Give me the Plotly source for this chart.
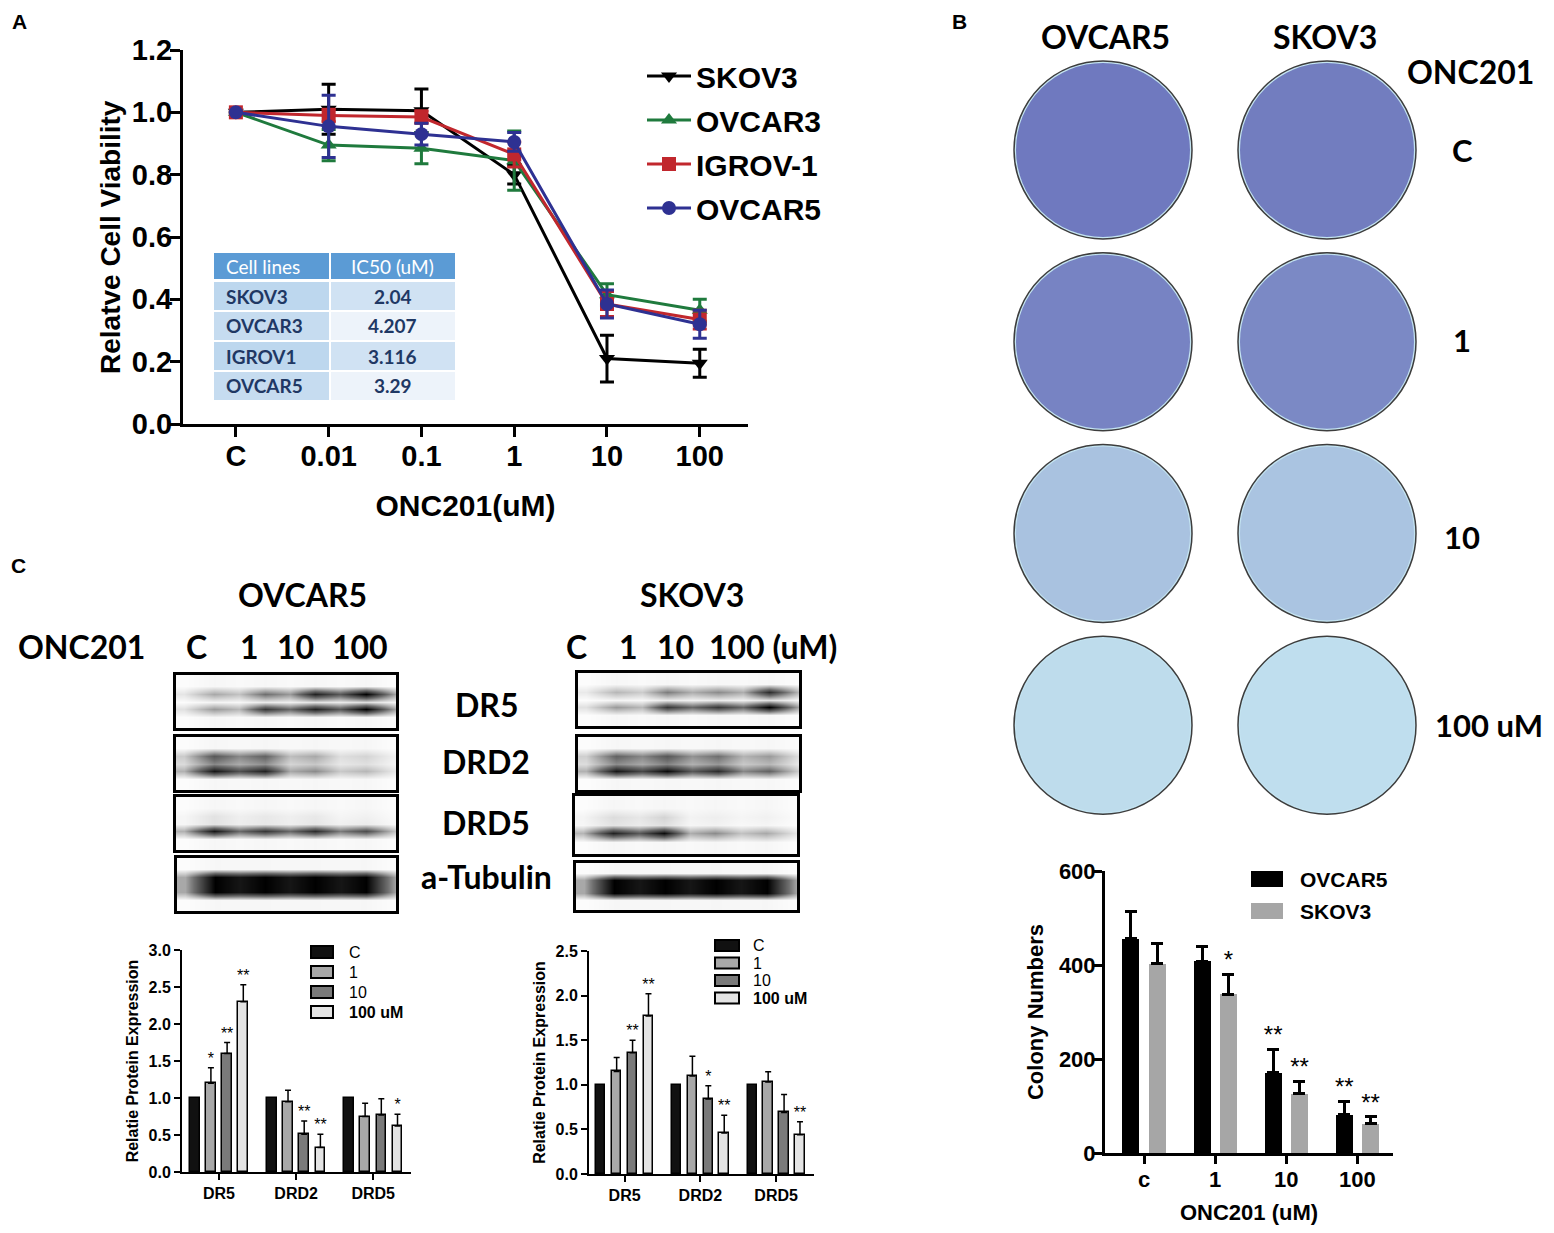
import plotly.graph_objects as go

W, H = 1554, 1233
PAGE_PAD = 8            # default body margin of the html page
FW, FH = W - 2 * PAGE_PAD, H - 2 * PAGE_PAD
ARIAL = 'Liberation Sans, Arial, sans-serif'
CALIBRI = 'Lato, Open Sans, sans-serif'

# ---------------- Panel A: viability ----------------
CONC_LABELS = ['C', '0.01', '0.1', '1', '10', '100']
SKOV3_VIAB = [1.0, 1.01, 1.005, 0.80, 0.21, 0.195]
SKOV3_ERR = [0.0, 0.08, 0.07, 0.03, 0.075, 0.045]
OVCAR3_VIAB = [1.0, 0.895, 0.885, 0.845, 0.415, 0.365]
OVCAR3_ERR = [0.0, 0.05, 0.05, 0.095, 0.035, 0.035]
IGROV1_VIAB = [1.0, 0.99, 0.985, 0.865, 0.385, 0.335]
IGROV1_ERR = [0.0, 0.02, 0.02, 0.04, 0.04, 0.03]
OVCAR5_VIAB = [1.0, 0.955, 0.93, 0.905, 0.385, 0.32]
OVCAR5_ERR = [0.0, 0.10, 0.035, 0.03, 0.045, 0.045]

IC50_HEADER = ['Cell lines', 'IC50 (uM)']
IC50_LINES = ['SKOV3', 'OVCAR3', 'IGROV1', 'OVCAR5']
IC50_VALUES = ['2.04', '4.207', '3.116', '3.29']

# ---------------- Panel B: colony formation ----------------
PLATE_LINES = ['OVCAR5', 'SKOV3']
PLATE_DOSES = ['C', '1', '10', '100 uM']
PLATE_COVER_OVCAR5 = [0.68, 0.62, 0.22, 0.05]
PLATE_COVER_SKOV3 = [0.66, 0.58, 0.20, 0.04]

COLONY_DOSES = ['c', '1', '10', '100']
COLONY_OVCAR5 = [456, 408, 171, 81]
COLONY_OVCAR5_ERR = [57, 32, 50, 29]
COLONY_SKOV3 = [403, 338, 126, 62]
COLONY_SKOV3_ERR = [43, 42, 27, 15]
COLONY_OVCAR5_SIG = ['', '', '**', '**']
COLONY_SKOV3_SIG = ['', '*', '**', '**']

# ---------------- Panel C: western blot ----------------
PROTEINS = ['DR5', 'DRD2', 'DRD5']
WB_DOSES = ['C', '1', '10', '100 uM']

OV5_EXPR_C = [1.0, 1.0, 1.0]
OV5_EXPR_1 = [1.2, 0.95, 0.75]
OV5_EXPR_10 = [1.6, 0.51, 0.77]
OV5_EXPR_100 = [2.3, 0.33, 0.62]
OV5_ERR_1 = [0.21, 0.155, 0.18]
OV5_ERR_10 = [0.15, 0.18, 0.22]
OV5_ERR_100 = [0.23, 0.18, 0.16]
OV5_SIG_1 = ['*', '', '']
OV5_SIG_10 = ['**', '**', '']
OV5_SIG_100 = ['**', '**', '*']

SK3_EXPR_C = [1.0, 1.0, 1.0]
SK3_EXPR_1 = [1.15, 1.10, 1.03]
SK3_EXPR_10 = [1.36, 0.84, 0.69]
SK3_EXPR_100 = [1.77, 0.46, 0.44]
SK3_ERR_1 = [0.155, 0.22, 0.115]
SK3_ERR_10 = [0.14, 0.15, 0.20]
SK3_ERR_100 = [0.25, 0.20, 0.145]
SK3_SIG_1 = ['', '', '']
SK3_SIG_10 = ['**', '*', '']
SK3_SIG_100 = ['**', '**', '**']

# band intensities per lane (C, 1, 10, 100), 0 = blank, 1 = saturated
OV5_DR5_LOW = [0.35, 0.75, 0.85, 1.0]
OV5_DR5_UP = [0.30, 0.50, 0.85, 1.0]
OV5_DRD2_LOW = [0.90, 0.85, 0.40, 0.25]
OV5_DRD2_UP = [0.60, 0.55, 0.30, 0.15]
OV5_DRD5_LOW = [0.90, 0.75, 0.80, 0.65]
OV5_DRD5_UP = [0.10, 0.08, 0.08, 0.05]
OV5_TUB_LOW = [1.0, 1.0, 1.0, 1.0]
OV5_TUB_UP = [1.0, 1.0, 1.0, 1.0]
SK3_DR5_LOW = [0.35, 0.75, 0.75, 1.0]
SK3_DR5_UP = [0.25, 0.45, 0.40, 0.80]
SK3_DRD2_LOW = [0.90, 0.95, 0.80, 0.55]
SK3_DRD2_UP = [0.55, 0.60, 0.50, 0.35]
SK3_DRD5_LOW = [0.85, 0.95, 0.40, 0.30]
SK3_DRD5_UP = [0.12, 0.15, 0.06, 0.05]
SK3_TUB_LOW = [1.0, 1.0, 1.0, 1.0]
SK3_TUB_UP = [1.0, 1.0, 1.0, 1.0]
BLOT_GAP = [0.12, 0.55, 0.2, 1.0]    # how much signal sits between the two band rows
BLOT_SEAM = [0.7, 0.75, 0.7, 0.9]    # how much signal remains between neighbouring lanes
BLOT_LABELS = ['DR5', 'DRD2', 'DRD5', 'a-Tubulin']


def fx(px):
    return (px - PAGE_PAD) / FW


def fy(py):
    return 1 - (py - PAGE_PAD) / FH


def bold(size, family=ARIAL, color='black'):
    return dict(family=family, size=size, color=color, weight='bold')


fig = go.Figure()
annotations = []
shapes = []


def label(text, px, py, size, family=CALIBRI, xanchor='center', weight='bold', color='black', angle=0):
    annotations.append(dict(text=text, x=fx(px), y=fy(py), xref='paper', yref='paper',
                            xanchor=xanchor, yanchor='middle', showarrow=False, textangle=angle,
                            font=dict(family=family, size=size, color=color, weight=weight)))


def box(x0, x1, y0, y1, color, edge=None, edge_w=0):
    shapes.append(dict(type='rect', xref='paper', yref='paper', x0=fx(x0), x1=fx(x1),
                       y0=fy(y1), y1=fy(y0), fillcolor=color, layer='above',
                       line=dict(width=edge_w, color=edge or color)))


def key(names, fills, bx0, bx1, y_first, pitch, bh, tx, size, weights, edge=None, edge_w=0):
    # hand-drawn legend: swatch + label per series
    for i, (name, fill) in enumerate(zip(names, fills)):
        yc = y_first + pitch * i
        box(bx0, bx1, yc - bh / 2, yc + bh / 2, fill, edge, edge_w)
        label(name, tx, yc, size, ARIAL, xanchor='left', weight=weights[i])


# ---------- A ----------
a_series = [
    ('SKOV3', SKOV3_VIAB, SKOV3_ERR, '#000000', 'triangle-down'),
    ('OVCAR3', OVCAR3_VIAB, OVCAR3_ERR, '#1f7a3d', 'triangle-up'),
    ('IGROV-1', IGROV1_VIAB, IGROV1_ERR, '#c1272d', 'square'),
    ('OVCAR5', OVCAR5_VIAB, OVCAR5_ERR, '#2e3192', 'circle'),
]
x_idx = list(range(len(CONC_LABELS)))
for name, vals, errs, color, symbol in a_series:
    fig.add_trace(go.Scatter(
        x=x_idx, y=vals, name=name, mode='lines+markers',
        line=dict(color=color, width=3),
        marker=dict(symbol=symbol, size=14, color=color),
        error_y=dict(type='data', array=errs, color=color, thickness=3, width=7),
        legendgroup=name, legend='legend', xaxis='x', yaxis='y'))

# IC50 inset table (drawn as cells so the row height follows the picture)
col_edges = [214, 330, 455]
col1_fill = ['#bdd7ee', '#c6dcf0', '#bdd7ee', '#c6dcf0']
col2_fill = ['#d0e2f3', '#edf3fa', '#d0e2f3', '#edf3fa']
box(col_edges[0], col_edges[1] - 1, 253, 279, '#5b9bd5')
box(col_edges[1] + 1, col_edges[2], 253, 279, '#5b9bd5')
label(IC50_HEADER[0], col_edges[0] + 10, 266, 19, xanchor='left', color='white', weight='normal')
label(IC50_HEADER[1], (col_edges[1] + col_edges[2]) / 2, 266, 19, color='white', weight='normal')
for i, (line_name, ic50) in enumerate(zip(IC50_LINES, IC50_VALUES)):
    top = 282 + 30 * i
    box(col_edges[0], col_edges[1] - 1, top, top + 28, col1_fill[i])
    box(col_edges[1] + 1, col_edges[2], top, top + 28, col2_fill[i])
    label(line_name, col_edges[0] + 10, top + 14, 19, xanchor='left', color='#1f3864')
    label(ic50, (col_edges[1] + col_edges[2]) / 2, top + 14, 19, color='#1f3864')

# ---------- B plates ----------
for j, cover in enumerate([PLATE_COVER_OVCAR5, PLATE_COVER_SKOV3]):
    xs = [j] * len(PLATE_DOSES)
    ys = list(range(len(PLATE_DOSES)))
    fig.add_trace(go.Scatter(x=xs, y=ys, mode='markers', showlegend=False, hoverinfo='skip',
                             marker=dict(size=178, color='#c4e4f1',
                                         line=dict(color='#3d3d3d', width=1.5)),
                             xaxis='x2', yaxis='y2'))
    fig.add_trace(go.Scatter(x=xs, y=ys, mode='markers', showlegend=False, hoverinfo='skip',
                             marker=dict(size=174, color='#4747a6', opacity=cover,
                                         line=dict(width=0)),
                             xaxis='x2', yaxis='y2'))

# ---------- B colony bars ----------
cx = list(range(len(COLONY_DOSES)))
colony_fill = ['#000000', '#a6a6a6']
for k, (name, vals, errs, sig) in enumerate([
        ('OVCAR5', COLONY_OVCAR5, COLONY_OVCAR5_ERR, COLONY_OVCAR5_SIG),
        ('SKOV3', COLONY_SKOV3, COLONY_SKOV3_ERR, COLONY_SKOV3_SIG)]):
    xpos = [c + (k - 0.5) * 0.37 for c in cx]
    fig.add_trace(go.Bar(x=xpos, y=vals, width=0.24, name=name, showlegend=False,
                         marker=dict(color=colony_fill[k], line=dict(width=0)),
                         error_y=dict(type='data', array=errs, arrayminus=[0] * len(errs),
                                      symmetric=False, color='black', thickness=3, width=6),
                         xaxis='x3', yaxis='y3'))
    fig.add_trace(go.Scatter(x=xpos, y=[v + e for v, e in zip(vals, errs)], text=sig,
                             mode='text', textposition='top center', showlegend=False,
                             textfont=dict(family=ARIAL, size=24, color='black'),
                             hoverinfo='skip', xaxis='x3', yaxis='y3'))
key(['OVCAR5', 'SKOV3'], colony_fill, 1251, 1283, 879, 32, 16, 1298, 21, ['bold', 'bold'])

# ---------- C blots ----------
ov5_bands = [(OV5_DR5_LOW, OV5_DR5_UP), (OV5_DRD2_LOW, OV5_DRD2_UP),
             (OV5_DRD5_LOW, OV5_DRD5_UP), (OV5_TUB_LOW, OV5_TUB_UP)]
sk3_bands = [(SK3_DR5_LOW, SK3_DR5_UP), (SK3_DRD2_LOW, SK3_DRD2_UP),
             (SK3_DRD5_LOW, SK3_DRD5_UP), (SK3_TUB_LOW, SK3_TUB_UP)]
ov5_boxes = [(176, 396, 675, 728), (176, 396, 737, 790), (176, 396, 797, 850), (177, 396, 858, 911)]
sk3_boxes = [(578, 799, 673, 726), (578, 799, 737, 790), (575, 797, 796, 854), (576, 797, 863, 910)]


def lane_profile(vals, seam):
    # lane centres plus the lighter seams between neighbouring lanes
    out = [0.3 * vals[0]]
    for i, v in enumerate(vals):
        out.append(v)
        if i < len(vals) - 1:
            out.append(seam * min(v, vals[i + 1]))
    out.append(0.3 * vals[-1])
    return out


lane_x = [-0.6] + [v for i in range(4) for v in ([i, i + 0.5] if i < 3 else [i])] + [3.6]

blot_axes = {}
ax_n = 6
for bands, boxes in [(ov5_bands, ov5_boxes), (sk3_bands, sk3_boxes)]:
    for r, ((low, up), bx) in enumerate(zip(bands, boxes)):
        gap = [BLOT_GAP[r] * (a + b) / 2 for a, b in zip(low, up)]
        bg = [0.03] * 4
        rows = [bg, bg, low, gap, up, bg, bg]
        z = [lane_profile(rw, BLOT_SEAM[r]) for rw in rows]
        fig.add_trace(go.Heatmap(z=z, x=lane_x, y=list(range(len(rows))), zmin=0, zmax=1,
                                 zsmooth='best', showscale=False, hoverinfo='skip',
                                 colorscale=[[0, '#ffffff'], [0.5, '#6e6e6e'], [1, '#000000']],
                                 xaxis='x%d' % ax_n, yaxis='y%d' % ax_n))
        blot_axes[ax_n] = bx
        ax_n += 1

# ---------- C quantification bars ----------
wb_fill = ['#111111', '#a8a8a8', '#7a7a7a', '#e4e4e4']
px_idx = list(range(len(PROTEINS)))
for axn, expr, errs, sigs in [
        (4, [OV5_EXPR_C, OV5_EXPR_1, OV5_EXPR_10, OV5_EXPR_100],
         [None, OV5_ERR_1, OV5_ERR_10, OV5_ERR_100], [None, OV5_SIG_1, OV5_SIG_10, OV5_SIG_100]),
        (5, [SK3_EXPR_C, SK3_EXPR_1, SK3_EXPR_10, SK3_EXPR_100],
         [None, SK3_ERR_1, SK3_ERR_10, SK3_ERR_100], [None, SK3_SIG_1, SK3_SIG_10, SK3_SIG_100])]:
    for k, dose in enumerate(WB_DOSES):
        xpos = [p + (k - 1.5) * 0.21 for p in px_idx]
        ey = None
        if errs[k] is not None:
            ey = dict(type='data', array=errs[k], arrayminus=[0] * 3, symmetric=False,
                      color='black', thickness=1.5, width=3)
        fig.add_trace(go.Bar(x=xpos, y=expr[k], width=0.125, name=dose, showlegend=False,
                             marker=dict(color=wb_fill[k], line=dict(color='black', width=1.5)),
                             error_y=ey, xaxis='x%d' % axn, yaxis='y%d' % axn))
        if sigs[k] is not None:
            fig.add_trace(go.Scatter(x=xpos, y=[v + e for v, e in zip(expr[k], errs[k])],
                                     text=sigs[k], mode='text', textposition='top center',
                                     textfont=dict(family=ARIAL, size=16, color='black'),
                                     showlegend=False, hoverinfo='skip',
                                     xaxis='x%d' % axn, yaxis='y%d' % axn))
key_weights = ['normal', 'normal', 'normal', 'bold']
key(WB_DOSES, wb_fill, 311, 333, 952, 20, 12, 347, 16, key_weights, 'black', 2)
key(WB_DOSES, wb_fill, 715, 739, 945.5, 17.5, 11, 751, 16, key_weights, 'black', 2)

# ---------- layout ----------
layout = dict(
    width=FW, height=FH, autosize=False,
    margin=dict(l=0, r=0, t=0, b=0, pad=0, autoexpand=False),
    paper_bgcolor='white', plot_bgcolor='white', showlegend=True, bargap=0,
)


def axis_style(lw, tl, tw, size, shift=0):
    return dict(showline=True, linecolor='black', linewidth=lw, ticks='outside', ticklen=tl,
                tickwidth=tw, tickcolor='black', showgrid=False, zeroline=False,
                automargin=False, tickfont=bold(size), ticklabelstandoff=shift)


layout['xaxis'] = dict(domain=[fx(183), fx(748)], range=[-0.57, 5.52], anchor='y',
                       tickvals=x_idx, ticktext=CONC_LABELS,
                       title=dict(text='ONC201(uM)', font=bold(30), standoff=25),
                       **axis_style(3, 10, 3, 29, -6))
layout['yaxis'] = dict(domain=[fy(424), fy(50)], range=[0, 1.2], dtick=0.2, tickformat='.1f',
                       anchor='x', **axis_style(3, 10, 3, 29, -8))
label('Relatve Cell Viability', 110, 237, 28, ARIAL, angle=-90)
layout['legend'] = dict(x=fx(642), y=fy(50), xanchor='left', yanchor='top', font=bold(30),
                        bgcolor='rgba(0,0,0,0)', tracegroupgap=2, itemwidth=44)

hidden = dict(visible=False, showgrid=False, zeroline=False, automargin=False)
layout['xaxis2'] = dict(domain=[fx(991), fx(1439)], range=[-0.5, 1.5], anchor='y2', **hidden)
layout['yaxis2'] = dict(domain=[fy(821), fy(54)], range=[3.5, -0.5], anchor='x2', **hidden)

layout['xaxis3'] = dict(domain=[fx(1105), fx(1393)], range=[-0.55, 3.5], anchor='y3',
                        tickvals=cx, ticktext=COLONY_DOSES,
                        title=dict(text='ONC201 (uM)', font=bold(22), standoff=27),
                        **axis_style(3, 8, 3, 22, -3))
layout['yaxis3'] = dict(domain=[fy(1153), fy(871)], range=[0, 600], dtick=200, anchor='x3',
                        title=dict(text='Colony Numbers', font=bold(22), standoff=10),
                        **axis_style(3, 8, 3, 22, -6))

layout['xaxis4'] = dict(domain=[fx(182), fx(411)], range=[-0.48, 2.49], anchor='y4',
                        tickvals=px_idx, ticktext=PROTEINS, **axis_style(2, 6, 2, 16))
layout['yaxis4'] = dict(domain=[fy(1172), fy(950)], range=[0, 3.0], dtick=0.5, tickformat='.1f',
                        anchor='x4', title=dict(text='Relatie Protein Expression', font=bold(16), standoff=6),
                        **axis_style(2, 6, 2, 16))
layout['xaxis5'] = dict(domain=[fx(589), fx(814)], range=[-0.47, 2.5], anchor='y5',
                        tickvals=px_idx, ticktext=PROTEINS, **axis_style(2, 6, 2, 16))
layout['yaxis5'] = dict(domain=[fy(1174), fy(951)], range=[0, 2.5], dtick=0.5, tickformat='.1f',
                        anchor='x5', title=dict(text='Relatie Protein Expression', font=bold(16), standoff=6),
                        **axis_style(2, 6, 2, 16))

for n, (x0, x1, y0, y1) in blot_axes.items():
    frame = dict(showline=True, mirror=True, linecolor='black', linewidth=2.5, ticks='',
                 showticklabels=False, showgrid=False, zeroline=False, automargin=False)
    layout['xaxis%d' % n] = dict(domain=[fx(x0), fx(x1)], range=[-0.75, 3.6], anchor='y%d' % n, **frame)
    layout['yaxis%d' % n] = dict(domain=[fy(y1), fy(y0)], range=[-0.5, 6.5], anchor='x%d' % n, **frame)

# panel letters
label('A', 19, 21, 21, ARIAL)
label('B', 959, 21, 21, ARIAL)
label('C', 18, 566, 21, ARIAL)

# panel B text
label('OVCAR5', 1105, 37, 32)
label('SKOV3', 1325, 37, 32)
label('ONC201', 1470, 72, 32)
for dose, py in zip(PLATE_DOSES, [150, 340, 537, 725]):
    label(dose, 1489 if dose == '100 uM' else 1462, py, 31)

# panel C text
label('OVCAR5', 302, 594, 32)
label('SKOV3', 692, 594, 32)
label('ONC201', 81, 646, 32)
for text, px in zip(['C', '1', '10', '100'], [196, 249, 295, 360]):
    label(text, px, 646, 32)
for text, px in zip(['C', '1', '10', '100 (uM)'], [576, 628, 675, 773]):
    label(text, px, 646, 32)
for text, py in zip(BLOT_LABELS, [704, 761, 822, 876]):
    label(text, 486, py, 32)

layout['annotations'] = annotations
layout['shapes'] = shapes
fig.update_layout(**layout)

fig.write_html("out.html")
